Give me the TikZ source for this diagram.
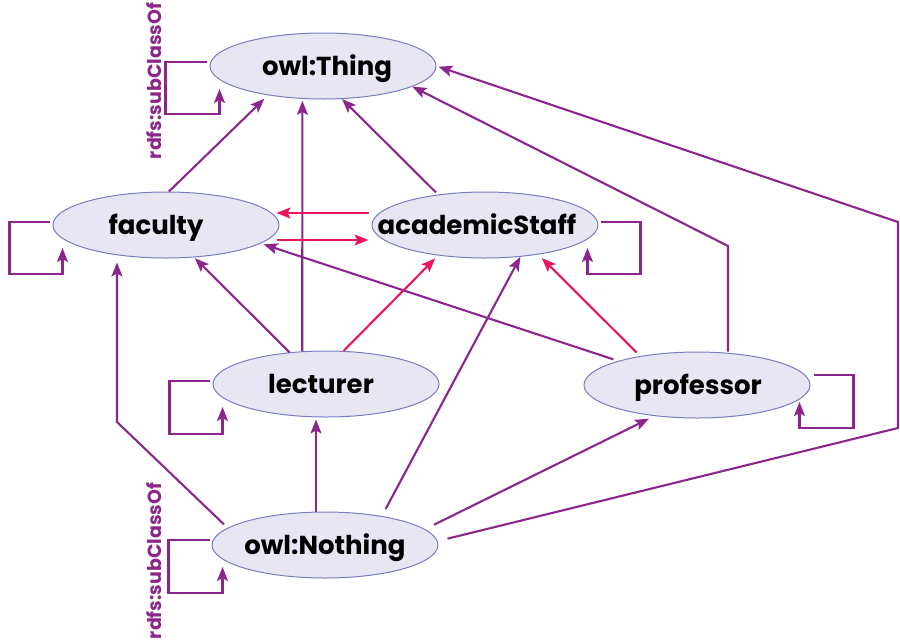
\documentclass[tikz,border=0pt]{standalone}
\usepackage{fontspec}
\setmainfont{Poppins}
\usetikzlibrary{arrows.meta,shapes.geometric,calc}
\definecolor{edgepurple}{RGB}{140,38,140}
\definecolor{edgered}{RGB}{235,22,90}
\definecolor{nodefill}{RGB}{232,230,242}
\definecolor{nodeborder}{RGB}{120,125,190}
\newcommand{\zwo}[2]{\makebox[0pt]{\hspace*{#1}#2\hspace*{-#1}}}
\begin{document}
\begin{tikzpicture}[x=1pt,y=-1pt,
  cls/.style={ellipse, draw=nodeborder, line width=1pt, fill=nodefill,
    minimum width=226pt, minimum height=66pt, inner sep=0pt,
    text height=20pt, text depth=2pt,
    font=\fontsize{26}{28}\selectfont\bfseries},
  sub/.style={draw=edgepurple, line width=2.1pt,
    -{Stealth[length=14pt,width=11pt,inset=3pt]}},
  eq/.style={sub, draw=edgered},
  lbl/.style={text=edgepurple, rotate=90, inner sep=0pt,
    font=\fontsize{19}{22}\selectfont\bfseries}
]
\useasboundingbox (0,0) rectangle (900,641);

\node[cls] (thing) at (323,66) {\zwo{4pt}{owl:Thing}};
\node[cls] (faculty) at (166,225) {\zwo{-10pt}{faculty}};
\node[cls] (acad) at (485,225) {\zwo{-8pt}{academicStaff}};
\node[cls] (lect) at (326,384) {\zwo{-5pt}{lecturer}};
\node[cls] (prof) at (697,385) {\zwo{1pt}{professor}};
\node[cls] (nothing) at (325,545) {\zwo{0pt}{owl:Nothing}};

\node[lbl] (lab1) at (154,81) {rdfs:subClassOf};
\node[lbl] (lab2) at (154,561) {rdfs:subClassOf};

% edges to owl:Thing
\draw[sub, shorten >=5pt] (faculty.85) -- (thing.208);
\draw[sub, shorten >=2pt] (lect.126) -- (thing.238);
\draw[sub, shorten <=3pt] (acad.147) -- (thing.-60);
\coordinate (pb) at (728,246);
\draw[sub] (pb |- prof.north) -- (pb) -- (thing.-13);
\coordinate (nb1) at (898,428);
\coordinate (nb2) at (898,222);
\draw[sub, shorten <=10pt, shorten >=2pt] (nothing.2) -- (nb1) -- (nb2) -- (thing.0);

% faculty / academicStaff equivalence
\draw[eq] ([shift={(-3pt,12pt)}]acad.west) -- ([shift={(-3pt,12pt)}]faculty.east);
\draw[eq] ([shift={(-3pt,-15pt)}]faculty.east) -- ([shift={(-3pt,-15pt)}]acad.west);

% edges to faculty
\draw[sub, shorten >=1pt] (lect.139) -- (faculty.-49);
\draw[sub, shorten <=5pt, shorten >=3pt] (prof.163) -- (faculty.-11);
\coordinate (fb) at (117,422);
\draw[sub, shorten <=5pt, shorten >=4pt] (nothing.170) -- (fb) -- (fb |- faculty.south);

% edges to academicStaff
\draw[eq, shorten >=4pt] (lect.62) -- (acad.213);
\draw[sub, shorten <=8pt] (nothing.27) -- (acad.-42);
\draw[eq, shorten <=5pt, shorten >=5pt] (prof.153) -- (acad.-29);

% edges to lecturer / professor
\draw[sub, shorten >=2pt] ([xshift=-9pt]nothing.north) -- ([xshift=-10pt]lect.south);
\draw[sub, shorten <=10pt, shorten >=6pt] (nothing.9) -- (prof.216);

% self loops
\draw[sub] ([shift={(-3pt,4pt)}]thing.west) -- ++(-41,0) -- ++(0,52) -- ++(54,0) -- ++(0,-25);
\draw[sub] ([shift={(-3pt,3pt)}]faculty.west) -- ++(-40,0) -- ++(0,52) -- ++(53,0) -- ++(0,-26);
\draw[sub] ([shift={(2pt,3pt)}]acad.east) -- ++(40,0) -- ++(0,52) -- ++(-53,0) -- ++(0,-26);
\draw[sub] ([shift={(-3pt,3pt)}]lect.west) -- ++(-40,0) -- ++(0,53) -- ++(53,0) -- ++(0,-27);
\draw[sub] ([shift={(3pt,10pt)}]prof.east) -- ++(40,0) -- ++(0,53) -- ++(-54,0) -- ++(0,-26);
\draw[sub] ([shift={(-2pt,5pt)}]nothing.west) -- ++(-41,0) -- ++(0,53) -- ++(54,0) -- ++(0,-26);
\end{tikzpicture}
\end{document}
